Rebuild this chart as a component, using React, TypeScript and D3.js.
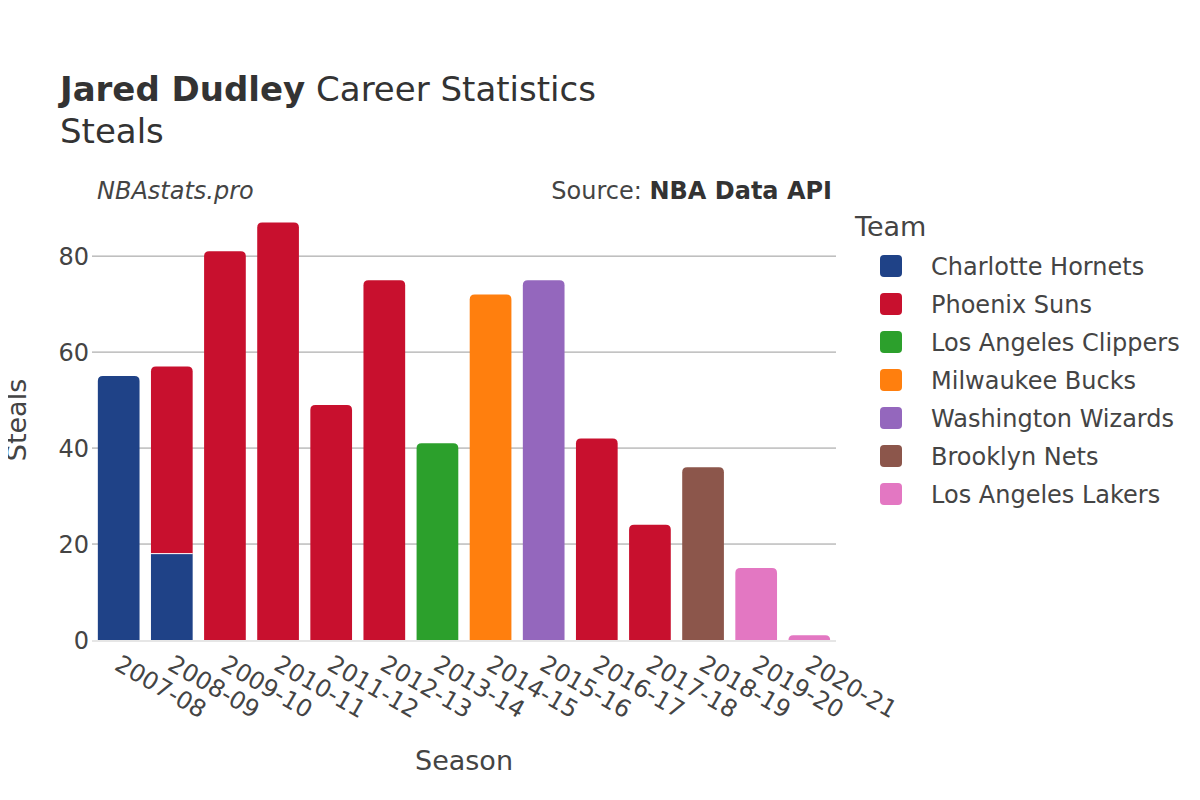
import { useEffect, useRef } from 'react';
import * as d3 from 'd3';

const seasons = ['2007-08', '2008-09', '2009-10', '2010-11', '2011-12', '2012-13', '2013-14', '2014-15', '2015-16', '2016-17', '2017-18', '2018-19', '2019-20', '2020-21'];
const teams = ['Charlotte Hornets', 'Phoenix Suns', 'Los Angeles Clippers', 'Milwaukee Bucks', 'Washington Wizards', 'Brooklyn Nets', 'Los Angeles Lakers'];
const teamColors = ['#1f4287', '#c8102e', '#2ca02c', '#ff7f0e', '#9467bd', '#8c564b', '#e377c2'];
// steals per season for each team (0 = did not play there)
const charlotte = [55, 18, 0, 0, 0, 0, 0, 0, 0, 0, 0, 0, 0, 0];
const phoenix = [0, 39, 81, 87, 49, 75, 0, 0, 0, 42, 24, 0, 0, 0];
const clippers = [0, 0, 0, 0, 0, 0, 41, 0, 0, 0, 0, 0, 0, 0];
const bucks = [0, 0, 0, 0, 0, 0, 0, 72, 0, 0, 0, 0, 0, 0];
const wizards = [0, 0, 0, 0, 0, 0, 0, 0, 75, 0, 0, 0, 0, 0];
const nets = [0, 0, 0, 0, 0, 0, 0, 0, 0, 0, 0, 36, 0, 0];
const lakers = [0, 0, 0, 0, 0, 0, 0, 0, 0, 0, 0, 0, 15, 1];
const yTicks = [0, 20, 40, 60, 80];

const series = [charlotte, phoenix, clippers, bucks, wizards, nets, lakers];

const FONT = '"DejaVu Sans", sans-serif';

// rect with only the top corners rounded
const topRounded = (x, y, w, h, r) => {
  r = Math.min(r, h, w / 2);
  return `M${x},${y + h}V${y + r}Q${x},${y} ${x + r},${y}H${x + w - r}Q${x + w},${y} ${x + w},${y + r}V${y + h}Z`;
};

const App = () => {
  const svgRef = useRef();

  useEffect(() => {
    const svg = d3.select(svgRef.current);
    svg.selectAll('*').remove();

    const x = d3.scaleBand().domain(seasons).range([92, 836]).paddingInner(0.215).paddingOuter(0.11);
    const y = d3.scaleLinear().domain([0, 91.7]).range([640, 200]);

    const g = svg.append('g');

    // gridlines
    g.selectAll('line.grid')
      .data(yTicks.filter(t => t > 0))
      .enter()
      .append('line')
      .attr('x1', 92)
      .attr('x2', 836)
      .attr('y1', d => y(d))
      .attr('y2', d => y(d))
      .attr('stroke', '#9a9a9a')
      .attr('stroke-width', 1);

    // y tick labels
    g.selectAll('text.ytick')
      .data(yTicks)
      .enter()
      .append('text')
      .attr('x', 89)
      .attr('y', d => y(d))
      .attr('dy', '0.36em')
      .attr('text-anchor', 'end')
      .style('font-family', FONT)
      .style('font-size', '24px')
      .attr('fill', '#444')
      .text(d => d);

    // stacked bars
    const stackData = seasons.map((s, i) => {
      const row = { season: s };
      teams.forEach((t, j) => (row[t] = series[j][i]));
      return row;
    });
    const stacked = d3.stack().keys(teams)(stackData);

    seasons.forEach((s, i) => {
      const segs = stacked
        .map((layer, j) => ({ j, y0: layer[i][0], y1: layer[i][1] }))
        .filter(d => d.y1 > d.y0);
      segs.forEach((d, k) => {
        const top = k === segs.length - 1;
        const bx = x(s);
        const bw = x.bandwidth();
        const by = y(d.y1);
        const bh = y(d.y0) - y(d.y1);
        g.append('path')
          .attr('d', top ? topRounded(bx, by, bw, bh, 5) : `M${bx},${by}h${bw}v${bh}h${-bw}Z`)
          .attr('fill', teamColors[d.j]);
        if (k > 0) {
          g.append('line')
            .attr('x1', bx)
            .attr('x2', bx + bw)
            .attr('y1', y(d.y0))
            .attr('y2', y(d.y0))
            .attr('stroke', '#fff')
            .attr('stroke-width', 1);
        }
      });
    });

    // zero line
    g.append('line')
      .attr('x1', 92)
      .attr('x2', 836)
      .attr('y1', y(0) + 1)
      .attr('y2', y(0) + 1)
      .attr('stroke', '#e6e6e6')
      .attr('stroke-width', 2);

    // x tick labels
    g.selectAll('text.xtick')
      .data(seasons)
      .enter()
      .append('text')
      .attr('transform', d => `translate(${x(d) + x.bandwidth() / 2 + 3},${654}) rotate(30)`)
      .attr('dy', '0.71em')
      .attr('text-anchor', 'start')
      .style('font-family', FONT)
      .style('font-size', '24px')
      .attr('fill', '#444')
      .text(d => d);

    // axis titles
    g.append('text')
      .attr('x', 464)
      .attr('y', 770)
      .attr('text-anchor', 'middle')
      .style('font-family', FONT)
      .style('font-size', '27px')
      .attr('fill', '#444')
      .text('Season');

    g.append('text')
      .attr('transform', 'translate(26,420) rotate(-90)')
      .attr('text-anchor', 'middle')
      .style('font-family', FONT)
      .style('font-size', '27px')
      .attr('fill', '#444')
      .text('Steals');

    // titles
    const title = g.append('text')
      .attr('x', 60)
      .attr('y', 101)
      .style('font-family', FONT)
      .style('font-size', '34px')
      .attr('fill', '#333');
    title.append('tspan').style('font-weight', 'bold').text('Jared Dudley');
    title.append('tspan').text(' Career Statistics');

    g.append('text')
      .attr('x', 60)
      .attr('y', 143)
      .style('font-family', FONT)
      .style('font-size', '34px')
      .attr('fill', '#333')
      .text('Steals');

    g.append('text')
      .attr('x', 97)
      .attr('y', 199)
      .style('font-family', FONT)
      .style('font-size', '24px')
      .style('font-style', 'italic')
      .attr('fill', '#444')
      .text('NBAstats.pro');

    const src = g.append('text')
      .attr('x', 832)
      .attr('y', 199)
      .attr('text-anchor', 'end')
      .style('font-family', FONT)
      .style('font-size', '24px')
      .attr('fill', '#444');
    src.append('tspan').text('Source: ');
    src.append('tspan').style('font-weight', 'bold').attr('fill', '#333').text('NBA Data API');

    // legend
    g.append('text')
      .attr('x', 855)
      .attr('y', 236)
      .style('font-family', FONT)
      .style('font-size', '27px')
      .attr('fill', '#444')
      .text('Team');

    const leg = g.selectAll('g.leg')
      .data(teams)
      .enter()
      .append('g')
      .attr('transform', (d, i) => `translate(0,${266 + i * 38})`);
    leg.append('rect')
      .attr('x', 880)
      .attr('y', -11)
      .attr('width', 22)
      .attr('height', 22)
      .attr('rx', 4)
      .attr('fill', (d, i) => teamColors[i]);
    leg.append('text')
      .attr('x', 931)
      .attr('y', 0)
      .attr('dy', '0.36em')
      .style('font-family', FONT)
      .style('font-size', '24px')
      .attr('fill', '#444')
      .text(d => d);
  }, []);

  return (
    <div style={{ margin: '-8px' }}>
      <svg ref={svgRef} width={1200} height={800} style={{ display: 'block', background: '#fff' }} />
    </div>
  );
};

export default App;
